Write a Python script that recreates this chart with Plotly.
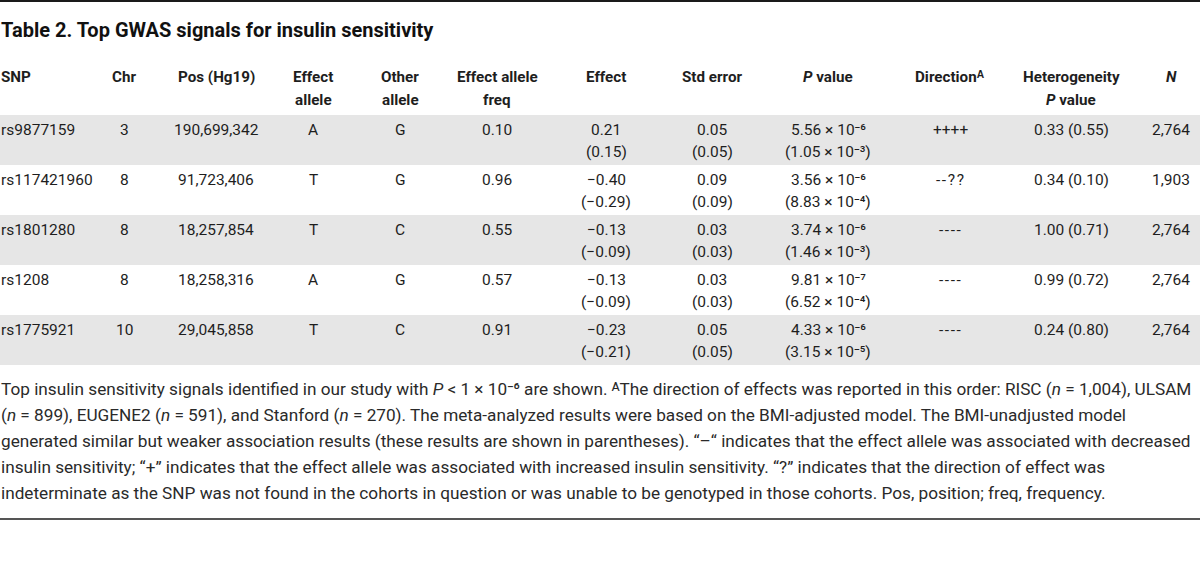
import plotly.graph_objects as go

# ---------------- data ----------------
snp = ["rs9877159", "rs117421960", "rs1801280", "rs1208", "rs1775921"]
chrom = [3, 8, 8, 8, 10]
pos_hg19 = [190699342, 91723406, 18257854, 18258316, 29045858]
effect_allele = ["A", "T", "T", "A", "T"]
other_allele = ["G", "G", "C", "G", "C"]
eaf = [0.10, 0.96, 0.55, 0.57, 0.91]
effect = [0.21, -0.40, -0.13, -0.13, -0.23]
effect_unadj = [0.15, -0.29, -0.09, -0.09, -0.21]
std_err = [0.05, 0.09, 0.03, 0.03, 0.05]
std_err_unadj = [0.05, 0.09, 0.03, 0.03, 0.05]
p_value = [5.56e-6, 3.56e-6, 3.74e-6, 9.81e-7, 4.33e-6]
p_value_unadj = [1.05e-3, 8.83e-4, 1.46e-3, 6.52e-4, 3.15e-5]
direction = ["++++", "--??", "----", "----", "----"]
het_p = [0.33, 0.34, 1.00, 0.99, 0.24]
het_p_unadj = [0.55, 0.10, 0.71, 0.72, 0.80]
n_samples = [2764, 1903, 2764, 2764, 2764]

header_line1 = ["SNP", "Chr", "Pos (Hg19)", "Effect", "Other", "Effect allele",
                "Effect", "Std error", "<i>P</i> value", "Direction\u1d2c",
                "Heterogeneity", "<i>N</i>"]
header_line2 = ["", "", "", "allele", "allele", "freq", "", "", "", "", "<i>P</i> value", ""]

title_text = "Table 2. Top GWAS signals for insulin sensitivity"
footnote_lines = [
    "Top insulin sensitivity signals identified in our study with <i>P</i> &lt; 1 × 10\u207b\u2076 are shown. "
    "\u1d2cThe direction of effects was reported in this order: RISC (<i>n</i> = 1,004), ULSAM",
    "(<i>n</i> = 899), EUGENE2 (<i>n</i> = 591), and Stanford (<i>n</i> = 270). The meta-analyzed results "
    "were based on the BMI-adjusted model. The BMI-unadjusted model",
    "generated similar but weaker association results (these results are shown in parentheses). "
    "“–“ indicates that the effect allele was associated with decreased",
    "insulin sensitivity; “+” indicates that the effect allele was associated with increased insulin "
    "sensitivity. “?” indicates that the direction of effect was",
    "indeterminate as the SNP was not found in the cohorts in question or was unable to be genotyped "
    "in those cohorts. Pos, position; freq, frequency.",
]

# ---------------- layout constants ----------------
W, H = 1200, 578
col_x = [0, 124, 216, 313, 400, 497, 606, 712, 828, 950, 1071, 1171]
header_y = [77, 100]
row_top0, row_h = 115, 50
line_off = [15, 37]
foot_y0, foot_dy = 389, 26
font_family = "Roboto, sans-serif"
cell_size, head_size = 15.5, 15.2
text_col = "#1e1e1e"
band_col = "#e6e6e6"

SUP = str.maketrans("0123456789-", "\u2070\u00b9\u00b2\u00b3\u2074\u2075\u2076\u2077\u2078\u2079\u207b")


def num(v, d=2):
    s = f"{abs(v):.{d}f}"
    return ("−" + s) if v < 0 else s


def sci(v):
    exp = 0
    m = v
    while m < 1:
        m *= 10
        exp -= 1
    return f"{m:.2f} × 10" + str(exp).translate(SUP)


def dirfmt(s):
    # small gap between dashes so they read as separate signs
    return "\u200a".join(s) if "-" in s else s


col_line1 = [
    snp,
    [str(c) for c in chrom],
    [f"{p:,}" for p in pos_hg19],
    effect_allele,
    other_allele,
    [f"{v:.2f}" for v in eaf],
    [num(v) for v in effect],
    [num(v) for v in std_err],
    [sci(v) for v in p_value],
    [dirfmt(d) for d in direction],
    [f"{a:.2f} ({b:.2f})" for a, b in zip(het_p, het_p_unadj)],
    [f"{v:,}" for v in n_samples],
]
col_line2 = [
    None, None, None, None, None, None,
    [f"({num(v)})" for v in effect_unadj],
    [f"({num(v)})" for v in std_err_unadj],
    [f"({sci(v)})" for v in p_value_unadj],
    None, None, None,
]

annotations = []
nrows = len(snp)
for ci, x in enumerate(col_x):
    xa = "left" if ci == 0 else "center"
    for li, lines in enumerate([col_line1[ci], col_line2[ci]]):
        if lines is None:
            continue
        for r, t in enumerate(lines):
            annotations.append(dict(
                xref="x", yref="y", x=x, y=row_top0 + r * row_h + line_off[li],
                xanchor=xa, yanchor="middle", text=t, showarrow=False, borderpad=0,
                font=dict(family=font_family, size=cell_size, color=text_col)))
    for li, hl in enumerate([header_line1, header_line2]):
        if not hl[ci]:
            continue
        annotations.append(dict(
            xref="x", yref="y", x=x, y=header_y[li], xanchor=xa, yanchor="middle",
            text=f"<b>{hl[ci]}</b>", showarrow=False, borderpad=0,
            font=dict(family=font_family, size=head_size, color=text_col)))

annotations.append(dict(xref="x", yref="y", x=0, y=30, xanchor="left", yanchor="middle",
                        text=f"<b>{title_text}</b>", showarrow=False, borderpad=0,
                        font=dict(family=font_family, size=20, color="#111111")))
for i, line in enumerate(footnote_lines):
    annotations.append(dict(xref="x", yref="y", x=0, y=foot_y0 + i * foot_dy,
                            xanchor="left", yanchor="middle", text=line, showarrow=False,
                            borderpad=0,
                            font=dict(family=font_family, size=17.2, color="#2a2a2a")))

shapes = []
for r in range(nrows):
    if r % 2 == 0:
        shapes.append(dict(type="rect", xref="x", yref="y", x0=0, x1=W,
                           y0=row_top0 + r * row_h, y1=row_top0 + (r + 1) * row_h,
                           fillcolor=band_col, line=dict(width=0), layer="below"))
shapes.append(dict(type="line", xref="x", yref="y", x0=0, x1=W, y0=1, y1=1,
                   line=dict(color="#1a1a1a", width=2)))
shapes.append(dict(type="line", xref="x", yref="y", x0=0, x1=W, y0=519, y1=519,
                   line=dict(color="#555555", width=2)))

fig = go.Figure()
fig.update_layout(
    width=W, height=H, margin=dict(l=0, r=0, t=0, b=0),
    paper_bgcolor="white", plot_bgcolor="white",
    xaxis=dict(range=[0, W], visible=False, fixedrange=True),
    yaxis=dict(range=[H, 0], visible=False, fixedrange=True),
    shapes=shapes, annotations=annotations,
)

fig.write_html("out.html", config={"displayModeBar": False},
               post_script="document.body.style.margin='0';document.body.style.overflow='hidden';")
